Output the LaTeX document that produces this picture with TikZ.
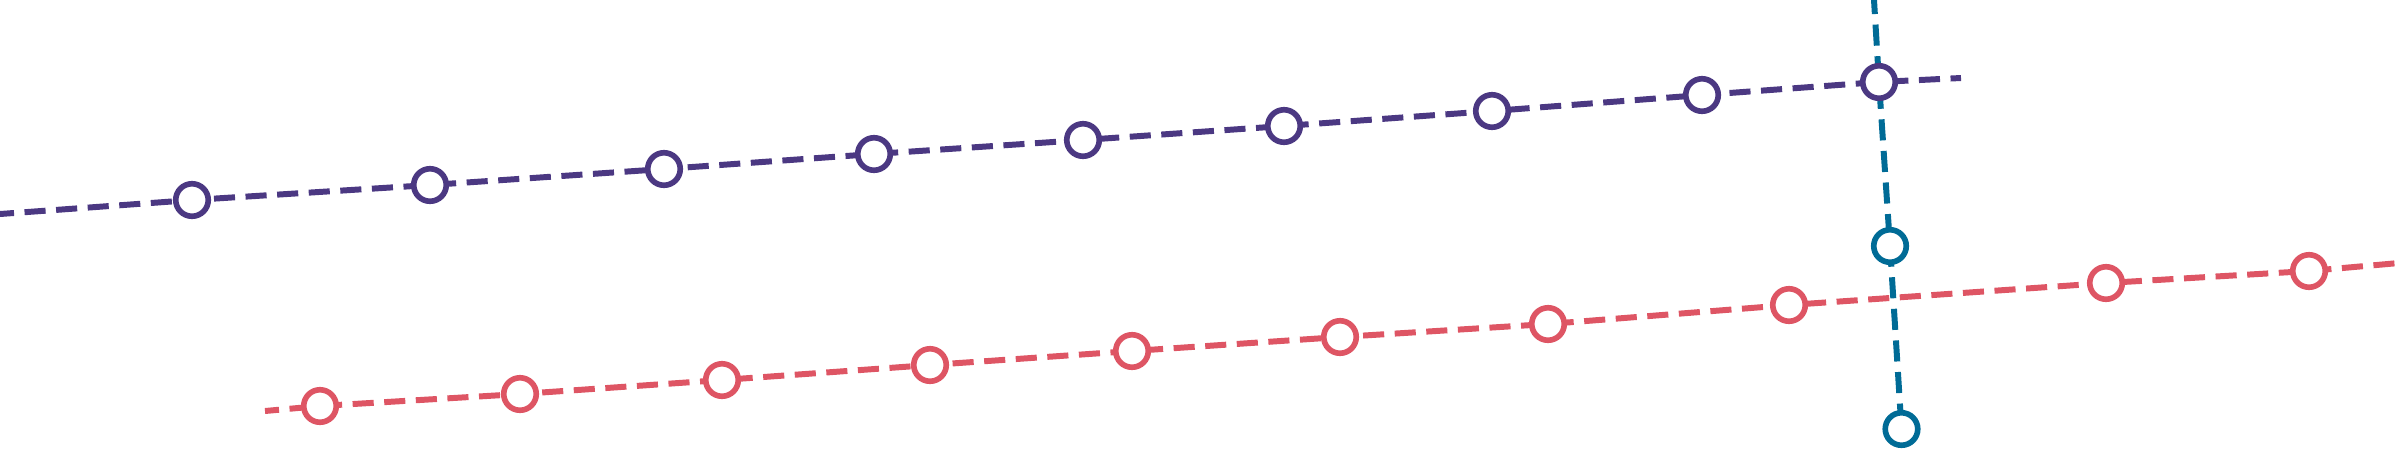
\documentclass[tikz,border=0pt]{standalone}
\usepackage{tikz}

\definecolor{linepurple}{HTML}{4B3882}
\definecolor{linered}{HTML}{DE5564}
\definecolor{lineblue}{HTML}{006B96}

\begin{document}
\begin{tikzpicture}[x=0.01cm, y=-0.01cm,
    track/.style={line width=1.7pt, dash pattern=on 6pt off 3pt, dash phase=2pt},
    stop/.style={circle, draw, fill=white, line width=1.6pt, minimum size=0.325cm, inner sep=0pt}]
    \useasboundingbox (0,0) rectangle (2399,451);

    % Stops on the purple line
    \foreach \i/\x/\y in {1/192/200, 2/430/185, 3/664/169, 4/874/154, 5/1083/140,
                          6/1284/126, 7/1492/111, 8/1702/95, 9/1879/82}
        \coordinate (p\i) at (\x,\y);
    \coordinate (pstart) at (0,214);
    \coordinate (pend) at (1961,78);

    % Stops on the red line
    \foreach \i/\x/\y in {1/320/406, 2/520/394, 3/722/380, 4/930/365, 5/1132/351,
                          6/1340/337, 7/1548/324, 8/1789/305, 9/2106/283, 10/2309/271}
        \coordinate (r\i) at (\x,\y);
    \coordinate (rstart) at (265,411);
    \coordinate (rend) at (2399,263);

    % Stops on the blue line
    \coordinate (bstart) at (1874,0);
    \coordinate (b1) at (1890,246);
    \coordinate (b2) at (1901.5,429);

    % Purple line
    \draw[track, linepurple] (pstart) \foreach \i in {1,...,9} { -- (p\i) } -- (pend);

    % Red line
    \draw[track, linered] (rstart) \foreach \i in {1,...,10} { -- (r\i) } -- (rend);

    % Blue line
    \draw[track, lineblue] (bstart) -- (p9) -- (b1) -- (b2);

    % Circles
    \foreach \i in {1,...,9}
        \node[stop, draw=linepurple] (pn\i) at (p\i) {};
    \foreach \i in {1,...,10}
        \node[stop, draw=linered] (rn\i) at (r\i) {};
    \foreach \i in {1,2}
        \node[stop, draw=lineblue] (bn\i) at (b\i) {};

\end{tikzpicture}
\end{document}
